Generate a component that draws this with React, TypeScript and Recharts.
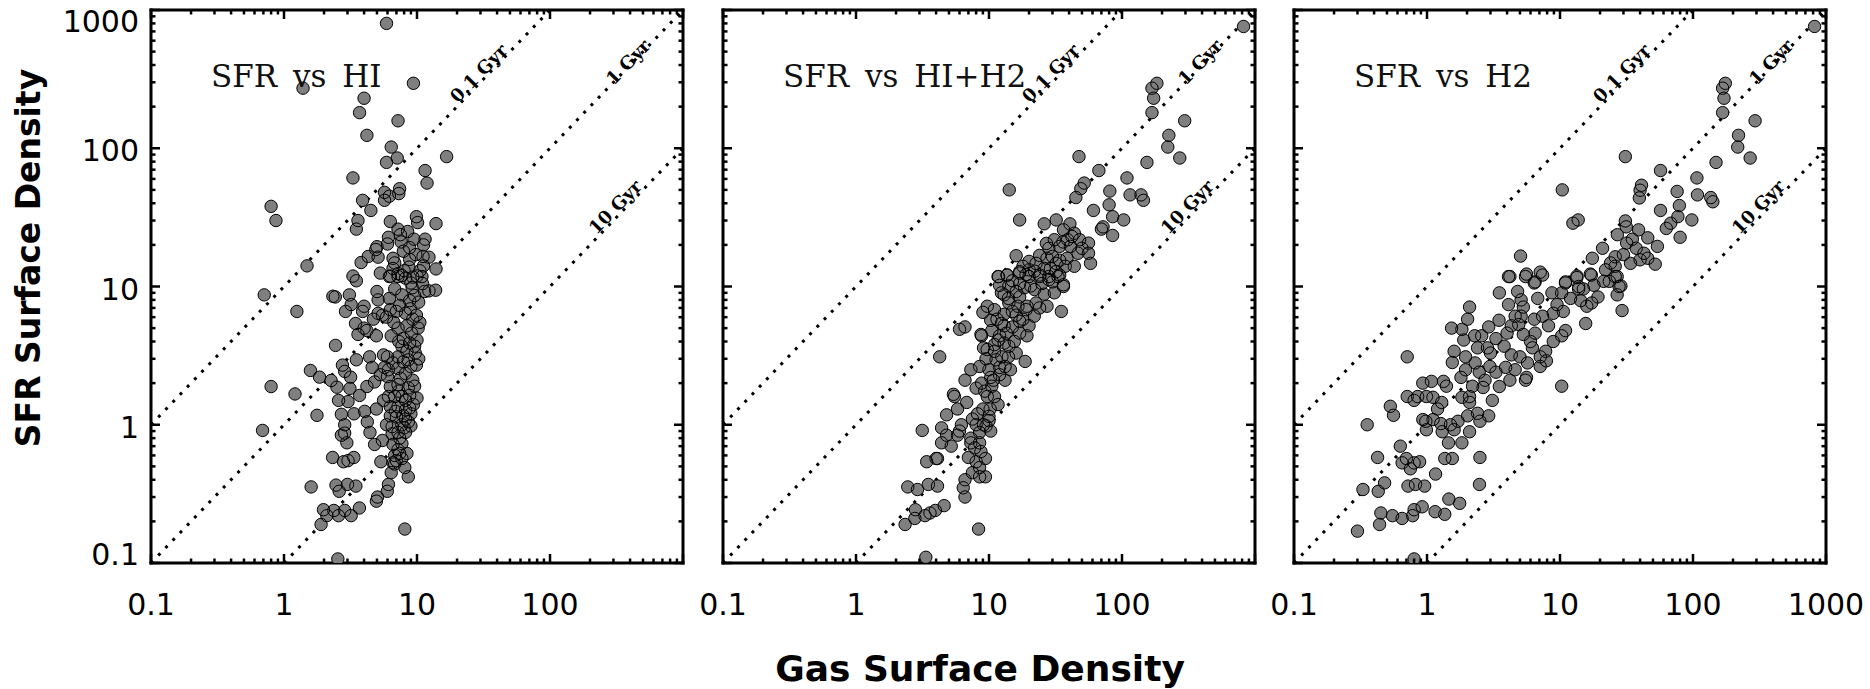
import React from 'react';
import { ScatterChart, Scatter, XAxis, YAxis, ReferenceLine } from 'recharts';

// gas surface density vs SFR surface density, three panels sharing the SFR axis
const HI_POINTS: [number, number][] = [
  [5.9, 800], [1.39, 272], [9.4, 295], [4.0, 230], [3.7, 181], [7.2, 158], [4.2, 124], [6.4, 102],
  [7.1, 85], [5.9, 79], [16.7, 87], [11.5, 69], [11.9, 56], [3.3, 61], [5.7, 48], [7.4, 51],
  [6.2, 45], [7.3, 47], [3.9, 42], [5.7, 42], [4.5, 35.5], [0.8, 38], [0.87, 30], [3.6, 30],
  [3.5, 26], [9.9, 32], [10.1, 29], [13.9, 28.5], [6.3, 29.5], [7.2, 26], [7.5, 23.7], [6.1, 22.7],
  [6.0, 20.3], [7.6, 21], [8.8, 19.1], [11.5, 22], [11.2, 20], [5.0, 19.4], [4.9, 18.5], [4.3, 16.5],
  [5.1, 16.3], [6.6, 16], [6.8, 14.8], [8.8, 15.7], [11.1, 16.5], [12.3, 16.3], [3.8, 14.9], [8.7, 13.8],
  [11.2, 14.1], [13.9, 13.4], [3.3, 11.9], [3.5, 11], [6.2, 11.8], [7.2, 11.8], [7.7, 12], [9.3, 11.7],
  [10.9, 11.8], [1.49, 14.1],
  [0.71, 8.7], [1.25, 6.6], [2.33, 8.5], [2.43, 8.4], [3.1, 8.7], [2.9, 6.6], [3.2, 7.4], [4.0, 7.2],
  [3.9, 6.6], [5.0, 9.2], [5.1, 8.0], [5.1, 6.4], [5.9, 6.0], [3.45, 5.4], [4.0, 5.0], [4.2, 4.8],
  [3.6, 4.5], [4.95, 4.4], [2.44, 3.75], [3.5, 2.95], [4.4, 3.1], [6.0, 3.1], [1.58, 2.47], [1.85, 2.21],
  [2.75, 2.7], [2.86, 2.43], [3.17, 2.21], [2.26, 2.09], [2.5, 1.87], [3.13, 1.83], [3.7, 1.63], [4.2, 1.89],
  [4.8, 2.04], [0.8, 1.89], [1.21, 1.67], [1.77, 1.17], [2.57, 1.5], [3.03, 1.47], [2.7, 1.19], [3.36, 1.2],
  [4.04, 1.25], [4.95, 1.3], [4.23, 1.05], [2.86, 1.0], [2.86, 0.87], [2.7, 0.84], [2.97, 0.74], [4.43, 0.88],
  [0.69, 0.91], [4.8, 0.72], [5.5, 0.77], [2.32, 0.58], [2.8, 0.54], [3.03, 0.55], [3.35, 0.58], [5.35, 0.54],
  [1.6, 0.355], [2.46, 0.366], [2.6, 0.33], [3.0, 0.37], [3.47, 0.36], [1.98, 0.243], [2.1, 0.22], [1.9, 0.19],
  [2.37, 0.24], [2.57, 0.22], [2.86, 0.24], [3.2, 0.22], [3.69, 0.25], [4.95, 0.28], [5.05, 0.3], [5.98, 0.33],
  [6.1, 0.37], [6.4, 0.45], [6.8, 0.52], [8.1, 0.49], [8.6, 0.42], [8.1, 0.176], [2.54, 0.107],
  [6.3, 11.9], [7.2, 12.4], [8.2, 11.5], [9.0, 10.6], [10, 11.9], [11.4, 9.2], [13.8, 9.4], [12.3, 9.3],
  [6.8, 9.6], [7.7, 8.7], [8.8, 7.9], [9.6, 8.6], [10.3, 7.7], [6.3, 6.8], [7.0, 6.6], [8.2, 6.4],
  [9.3, 5.8], [10.5, 5.5], [10.2, 5.0], [7.2, 5.0], [7.9, 4.2], [8.8, 3.9], [10.0, 4.1], [7.7, 3.7],
  [8.4, 3.4], [9.7, 3.3], [10.3, 3.0], [7.2, 3.1], [7.9, 2.85], [9.0, 2.63], [7.2, 2.56], [8.2, 2.35],
  [9.3, 2.1], [7.5, 2.17], [7.2, 1.95], [6.3, 1.89], [6.1, 1.6], [6.8, 1.6], [7.7, 1.6], [8.8, 1.63],
  [10, 1.56], [8.2, 1.5], [7.2, 1.35], [8.8, 1.32], [6.3, 1.16], [7.0, 1.14], [7.9, 1.16], [8.6, 1.05],
  [8.2, 1.1], [7.7, 1.0], [7.2, 0.88], [6.5, 0.86], [8.2, 0.88], [7.7, 0.73], [7.2, 0.66], [6.8, 0.6],
  [7.0, 0.55], [7.7, 0.57], [6.6, 0.53], [5.6, 3.2], [5.7, 2.6], [6.0, 2.23], [6.1, 2.5], [5.6, 1.5],
  [6.3, 1.35], [5.9, 1.0], [6.5, 0.97],
  [8.5, 25], [9.5, 22], [7.9, 18], [9.8, 17], [10.5, 13], [8.0, 13], [6.6, 13.5], [9.2, 9.8],
  [11, 10.5], [6.2, 8.2], [7.4, 7.3], [8.9, 6.9], [9.9, 6.2], [6.7, 5.5], [8.4, 5.2], [9.1, 4.6],
  [6.4, 4.4], [7.3, 4.0], [9.6, 3.7], [8.6, 2.95], [9.9, 2.7], [6.6, 2.8], [8.6, 1.85], [9.6, 1.9],
  [7.3, 1.75], [9.4, 1.4], [8.2, 1.28], [9.0, 1.2], [6.9, 1.25], [8.0, 0.95], [9.0, 0.98], [7.4, 0.8],
  [6.6, 0.72], [8.4, 0.62], [7.4, 0.62], [5.3, 12.5], [5.5, 6.2], [4.7, 5.8], [5.3, 2.3], [4.6, 2.6],
];

const TOTAL_POINTS: [number, number][] = [
  [820, 760], [183, 295], [168, 272], [173, 230], [168, 181], [296, 158], [225, 124], [221, 102],
  [272, 85], [154, 79], [47.5, 87], [67, 69], [109, 61], [81, 49], [115, 46], [139, 46],
  [145, 42], [52, 56], [49, 51], [45, 44], [80, 39], [61, 35.5], [85, 32], [103, 30.3],
  [72, 27], [70, 26], [85, 23.4], [14.2, 50], [17, 30.3], [26, 28.4], [32, 30.3], [40.6, 28.4],
  [36.3, 25.7], [43.8, 24.3], [48, 21.8], [56, 20.6], [58, 14.7], [46.7, 17.4], [38.6, 16], [34, 19.5],
  [28.2, 18.9], [27.3, 16], [32, 14.7], [37.4, 14], [43.8, 14], [16, 16.7], [22.6, 14.7], [20, 13.2],
  [17, 12.8], [11.8, 11.8], [13.7, 12.1], [24.1, 11.8], [28.2, 11.2], [33, 11.8], [36.3, 10.3], [14.1, 10.1],
  [17, 10.5], [20.6, 10.1], [56, 17.4], [41, 19.5], [50, 18.9], [31, 21.8], [39, 21.8],
  [11.7, 11.8], [13.7, 12.1], [17, 12.5], [20, 11.8], [24.1, 12.1], [28.2, 11.8], [34, 12.1], [36.3, 10],
  [31, 9.0], [27.3, 7.2], [35, 6.6], [12.4, 9.0], [14.1, 7.6], [17, 8.4], [19.3, 7.2], [22.6, 7.6],
  [21.9, 6.1], [9.7, 7.2], [10.3, 5.7], [12.4, 5.4], [15, 5.1], [17, 4.6], [19.3, 4.4], [18.7, 2.87],
  [16, 3.3], [14.1, 3.7], [11.7, 4.1], [8.8, 4.4], [9.7, 3.5], [11.3, 2.95], [13.2, 2.64], [14.5, 2.5],
  [13.2, 2.1], [10.3, 2.2], [8.5, 2.64], [7.3, 2.5], [6.6, 2.1], [8.0, 1.84], [9.7, 1.6], [11, 1.6],
  [11.7, 1.4], [10, 1.15], [10, 1.07], [10.3, 0.9], [8.5, 0.88], [6.8, 1.45], [5.5, 1.6], [5.8, 1.3],
  [4.8, 1.18], [5.4, 1.66], [4.26, 3.1], [6.0, 4.9], [6.6, 5.1], [8.7, 4.5], [9.1, 3.6], [3.15, 0.91],
  [4.4, 0.95], [4.4, 0.74], [4.8, 0.84], [5.8, 0.84], [7.3, 0.8], [7.3, 0.74], [8.5, 0.74], [3.4, 0.54],
  [4.0, 0.57], [4.1, 0.57], [7.0, 0.58], [8.0, 0.54], [9.4, 0.57], [7.5, 0.45], [8.5, 0.49], [8.5, 0.42],
  [9.4, 0.42], [6.6, 0.4], [6.4, 0.35], [6.6, 0.3], [2.45, 0.355], [2.9, 0.34], [3.5, 0.37], [4.1, 0.36],
  [2.8, 0.243], [2.34, 0.19], [2.77, 0.21], [3.3, 0.22], [3.6, 0.23], [3.95, 0.24], [4.6, 0.26], [8.35, 0.176],
  [3.35, 0.11],
  [9, 6.5], [11, 6.8], [13, 6.3], [15, 6.6], [10.5, 4.8], [12, 4.4], [13.5, 4.6], [15.5, 4.0],
  [9.5, 3.0], [11, 3.4], [12.5, 3.1], [10, 2.5], [12, 2.3], [8.8, 2.0], [10.5, 1.9], [9, 1.3],
  [8.2, 1.2], [9.5, 0.98], [8, 1.0], [7.5, 1.1], [18, 5.8], [16.5, 7.2], [20, 5.2], [14, 8.2],
  [16, 9.2], [18.5, 9.8], [22, 9.5], [25, 10.5], [26, 8.8], [24, 7.0], [30, 10.8], [32, 12.8],
  [29, 13.5], [22, 12.9],
  [12, 10.2], [15, 11], [19, 12.2], [26, 13.5], [34, 15.5], [30, 16.5], [24, 16.8], [20, 15.2],
  [18, 14], [27, 20.5], [36, 21], [42, 23], [13, 8.7], [16, 6.2], [19, 6.8], [11.5, 5.8],
  [13, 5.2], [17, 5.6], [11, 3.8], [13, 3.9], [14, 3.1], [12, 2.6], [10.8, 2.1], [9.3, 1.75],
  [10.2, 1.3], [8.7, 0.64], [7.8, 0.68], [9.1, 1.0], [5.2, 0.7], [6.2, 1.0], [6.0, 0.9],
];

const H2_POINTS: [number, number][] = [
  [820, 760], [175, 295], [167, 272], [171, 230], [167, 181], [293, 158], [220, 124], [217, 102],
  [269, 85], [149, 79], [31, 87], [57, 69], [107, 61], [41, 54], [40, 49.7], [39.5, 43.7],
  [76, 48.7], [108, 46], [136, 44], [141, 41], [57, 35.5], [79, 38.5], [77, 32], [98, 30.3],
  [68, 28.7], [63, 26.3], [80, 22.7], [10.4, 50], [12.5, 28.7], [13.7, 30.3], [31, 29.8], [31.5, 27],
  [39, 25.7], [27, 23.7], [45.7, 22.5], [54, 19.5], [31.7, 20.6], [37.4, 18.9], [42.8, 17.4], [45.7, 16],
  [40, 15.6], [33.9, 14.7], [52, 14.5], [26, 16.4], [26, 14], [26.9, 11.8], [23.5, 10.9], [28.7, 10.1],
  [20.9, 18.9], [17.5, 16], [16.9, 12.3], [13.4, 11.6], [11, 10.8], [13.8, 10], [5.05, 16.6], [4.2, 11.8],
  [5.5, 11.8], [6.5, 10.8], [7.1, 12.7],
  [4.1, 11.8], [5.6, 12.3], [6.4, 10.6], [7.4, 12.1], [13.4, 11.9], [17.2, 12.1], [21.3, 10.9], [26, 11.8],
  [27.8, 10], [26.9, 8.7], [29.3, 6.7], [19.3, 8.4], [17.3, 7.6], [15.9, 7.2], [14.3, 7.9], [13.8, 9.6],
  [11, 10.6], [10.3, 9.0], [8.7, 9.0], [6.8, 8.2], [5.1, 8.0], [4.8, 9.2], [3.5, 9.0], [4.1, 7.4],
  [2.09, 7.1], [2.02, 5.8], [3.48, 5.7], [2.91, 5.1], [1.53, 5.0], [1.83, 4.9], [1.89, 4.1], [2.28, 4.4],
  [2.58, 4.4], [2.85, 3.6], [2.4, 3.6], [1.6, 3.4], [1.55, 2.82], [1.95, 3.1], [1.95, 2.5], [2.47, 2.4],
  [2.97, 2.64], [3.3, 2.4], [3.8, 3.7], [4.3, 5.2], [4.6, 6.1], [5.3, 7.1], [5.1, 6.1], [5.3, 4.5],
  [6.0, 4.0], [6.4, 5.8], [7.4, 6.1], [8.9, 6.4], [10.6, 6.6], [11, 4.8], [10.3, 4.4], [8.9, 4.0],
  [7.8, 3.4], [7.1, 3.1], [6.2, 3.6], [7.9, 2.9], [7.1, 2.64], [5.7, 2.8], [5.0, 3.1], [4.3, 3.2],
  [3.9, 2.6], [4.2, 2.1], [4.6, 2.5], [5.5, 2.1], [5.6, 2.2], [3.5, 1.89], [2.73, 2.1], [2.64, 1.86],
  [2.09, 1.6], [1.83, 1.58], [2.09, 1.45], [2.4, 1.21], [2.91, 1.16], [2.5, 1.06], [2.02, 1.16], [1.71, 1.06],
  [1.5, 1.0], [1.6, 0.92], [2.09, 0.89], [1.83, 0.74], [1.45, 0.74], [1.55, 0.57], [1.36, 0.57], [1.3, 0.89],
  [1.11, 1.09], [1.27, 1.02], [1.29, 1.45], [0.99, 0.92], [0.98, 1.06], [0.93, 1.09], [0.99, 1.6], [1.11, 1.58],
  [1.08, 2.06], [1.33, 2.06], [0.93, 2.0], [0.71, 3.1], [0.53, 1.36], [0.56, 1.17], [0.71, 1.6], [0.8, 1.5],
  [0.85, 1.6], [0.355, 1.0], [0.425, 0.58], [0.33, 0.34], [0.43, 0.33], [0.48, 0.38], [0.63, 0.7], [0.65, 0.53],
  [0.7, 0.57], [0.75, 0.48], [0.8, 0.53], [0.88, 0.54], [0.82, 0.37], [0.72, 0.36], [0.96, 0.36], [1.16, 0.44],
  [2.5, 0.58], [2.48, 0.37], [1.46, 0.29], [1.76, 0.27], [1.15, 0.235], [1.36, 0.225], [0.92, 0.255], [0.8, 0.243],
  [0.78, 0.22], [0.65, 0.21], [0.55, 0.22], [0.45, 0.23], [0.44, 0.19], [0.3, 0.17], [0.8, 0.107], [10.3, 1.9],
  [15.6, 5.4],
  [3.0, 3.3], [3.3, 4.2], [4.0, 4.6], [4.9, 5.3], [6.5, 4.6], [8.2, 5.2], [9.5, 7.4], [12, 8.2],
  [15, 9.6], [18, 10.2], [22, 13.2], [24, 14.8], [30, 17], [35, 22], [2.3, 2.8], [1.8, 2.2],
  [1.4, 1.9], [1.2, 1.3], [2.2, 1.9], [3.1, 1.5],
];

const PANEL_TITLES = ['SFR vs HI', 'SFR vs HI+H2', 'SFR vs H2'];

const MAJOR_TICKS = [0.1, 1, 10, 100, 1000];
const MINOR_TICKS = [
  0.2, 0.3, 0.4, 0.5, 0.6, 0.7, 0.8, 0.9,
  2, 3, 4, 5, 6, 7, 8, 9,
  20, 30, 40, 50, 60, 70, 80, 90,
  200, 300, 400, 500, 600, 700, 800, 900,
];
const ALL_TICKS = [...MAJOR_TICKS, ...MINOR_TICKS].sort((a, b) => a - b);
const X_LABELS = [
  [0.1, 1, 10, 100],
  [0.1, 1, 10, 100],
  [0.1, 1, 10, 100, 1000],
];
const Y_LABELS = [0.1, 1, 10, 100, 1000];

// depletion time lines (Gyr) and where their labels sit, in data units
const DEPLETION_GYR = [0.1, 1, 10];
const DEPLETION_TEXT = ['0.1 Gyr', '1 Gyr', '10 Gyr'];
const DEPLETION_LABEL_GAS = [29, 385, 308];
const DEPLETION_LABEL_SFR = [350, 421, 37.7];

const DOMAIN: [number, number] = [0.1, 1000];
const PLOT_TOP = 10;
const PLOT_BOTTOM = 563;
const PLOT_W = 532;
const PANEL_LEFTS = [151, 723, 1294];
const PAD_L = 100;
const PAD_R = 44;
const CHART_H = 689;

const Y_LABEL_DY: Record<number, number> = { 1000: 22, 100: 13, 10: 13, 1: 13, 0.1: 2 };
const TICK_W = 2.5;
const len = (v: number) => (MAJOR_TICKS.includes(v) ? 9 : 4.5);

const bottomTick = (labels: number[]) => (p: any) => {
  const v = p.payload.value;
  return (
    <g>
      <line x1={p.x} x2={p.x} y1={p.y} y2={p.y - len(v)} stroke="#000" strokeWidth={TICK_W} />
      {labels.includes(v) && (
        <text x={p.x} y={p.y + 52} textAnchor="middle" fontFamily="DejaVu Sans" fontSize={30} fill="#000">
          {String(v)}
        </text>
      )}
    </g>
  );
};

const topTick = (p: any) => {
  const v = p.payload.value;
  return <line x1={p.x} x2={p.x} y1={p.y} y2={p.y + len(v)} stroke="#000" strokeWidth={TICK_W} />;
};

const leftTick = (withLabels: boolean) => (p: any) => {
  const v = p.payload.value;
  return (
    <g>
      <line x1={p.x} x2={p.x + len(v)} y1={p.y} y2={p.y} stroke="#000" strokeWidth={TICK_W} />
      {withLabels && Y_LABELS.includes(v) && (
        <text x={p.x - 12} y={p.y + Y_LABEL_DY[v]} textAnchor="end" fontFamily="DejaVu Sans" fontSize={30} fill="#000">
          {String(v)}
        </text>
      )}
    </g>
  );
};

const rightTick = (p: any) => {
  const v = p.payload.value;
  return <line x1={p.x} x2={p.x - len(v)} y1={p.y} y2={p.y} stroke="#000" strokeWidth={TICK_W} />;
};

const axisLine = { stroke: '#000', strokeWidth: 3, strokeLinecap: 'square' as const };

function segmentFor(t: number) {
  const x0 = Math.max(DOMAIN[0], DOMAIN[0] * t);
  const x1 = Math.min(DOMAIN[1], DOMAIN[1] * t);
  return [{ x: x0, y: x0 / t }, { x: x1, y: x1 / t }];
}

const fillDot = (p: any) => <circle cx={p.cx} cy={p.cy} r={6.2} fill="#7f7f7f" />;
const ringDot = (p: any) => <circle cx={p.cx} cy={p.cy} r={6.2} fill="none" stroke="#000" strokeWidth={1} />;
const gyrText = (p: any) => (
  <text
    x={p.cx}
    y={p.cy}
    transform={`rotate(-46 ${p.cx} ${p.cy})`}
    textAnchor="middle"
    dominantBaseline="central"
    fontFamily="DejaVu Serif"
    fontWeight="bold"
    fontSize={18}
    fill="#000"
  >
    {p.payload.text}
  </text>
);

const gyrLabels = DEPLETION_TEXT.map((text, i) => ({
  x: DEPLETION_LABEL_GAS[i],
  y: DEPLETION_LABEL_SFR[i],
  text,
}));

function Panel({ index, points }: { index: number; points: [number, number][] }) {
  const data = points.map(([x, y]) => ({ x, y }));
  const left = PANEL_LEFTS[index] - PAD_L;
  return (
    <div style={{ position: 'absolute', left, top: 0 }}>
      <ScatterChart width={PAD_L + PLOT_W + PAD_R} height={CHART_H} margin={{ top: 0, right: 0, bottom: 0, left: 0 }}>
        <XAxis
          xAxisId="bottom"
          dataKey="x"
          type="number"
          scale="log"
          domain={DOMAIN}
          allowDataOverflow
          ticks={ALL_TICKS}
          interval={0}
          height={CHART_H - PLOT_BOTTOM}
          tickSize={0}
          tickMargin={0}
          tickLine={false}
          axisLine={axisLine}
          tick={bottomTick(X_LABELS[index])}
        />
        <XAxis
          xAxisId="top"
          orientation="top"
          dataKey="x"
          type="number"
          scale="log"
          domain={DOMAIN}
          allowDataOverflow
          ticks={ALL_TICKS}
          interval={0}
          height={PLOT_TOP}
          tickSize={0}
          tickMargin={0}
          tickLine={false}
          axisLine={axisLine}
          tick={topTick}
        />
        <YAxis
          yAxisId="left"
          dataKey="y"
          type="number"
          scale="log"
          domain={DOMAIN}
          allowDataOverflow
          ticks={ALL_TICKS}
          interval={0}
          width={PAD_L}
          tickSize={0}
          tickMargin={0}
          tickLine={false}
          axisLine={axisLine}
          tick={leftTick(index === 0)}
        />
        <YAxis
          yAxisId="right"
          orientation="right"
          dataKey="y"
          type="number"
          scale="log"
          domain={DOMAIN}
          allowDataOverflow
          ticks={ALL_TICKS}
          interval={0}
          width={PAD_R}
          tickSize={0}
          tickMargin={0}
          tickLine={false}
          axisLine={axisLine}
          tick={rightTick}
        />
        {DEPLETION_GYR.map((t) => (
          <ReferenceLine
            key={t}
            xAxisId="bottom"
            yAxisId="left"
            segment={segmentFor(t)}
            stroke="#000"
            strokeWidth={3}
            strokeDasharray="3 7.4"
            ifOverflow="visible"
          />
        ))}
        <Scatter xAxisId="bottom" yAxisId="left" data={gyrLabels} shape={gyrText} isAnimationActive={false} />
        <Scatter xAxisId="bottom" yAxisId="left" data={data} shape={fillDot} isAnimationActive={false} />
        <Scatter xAxisId="top" yAxisId="right" data={data} shape={ringDot} isAnimationActive={false} />
      </ScatterChart>
    </div>
  );
}

export default function App() {
  const panelPoints = [HI_POINTS, TOTAL_POINTS, H2_POINTS];
  return (
    <div style={{ position: 'absolute', left: 0, top: 0, width: 1870, height: 689, background: '#fff', overflow: 'hidden' }}>
      {panelPoints.map((pts, i) => (
        <Panel key={i} index={i} points={pts} />
      ))}
      <svg width={1870} height={689} style={{ position: 'absolute', left: 0, top: 0, pointerEvents: 'none' }}>
        {PANEL_TITLES.map((t, i) => (
          <text key={t} x={PANEL_LEFTS[i] + 60} y={87} fontFamily="DejaVu Serif" fontSize={31} wordSpacing={6} fill="#111">
            {t}
          </text>
        ))}
        <text x={980} y={681} textAnchor="middle" fontFamily="DejaVu Sans" fontWeight="bold" fontSize={36} fill="#000">
          Gas Surface Density
        </text>
        <text
          x={0}
          y={0}
          transform="translate(40 258) rotate(-90)"
          textAnchor="middle"
          fontFamily="DejaVu Sans"
          fontWeight="bold"
          fontSize={33}
          fill="#000"
        >
          SFR Surface Density
        </text>
      </svg>
    </div>
  );
}
